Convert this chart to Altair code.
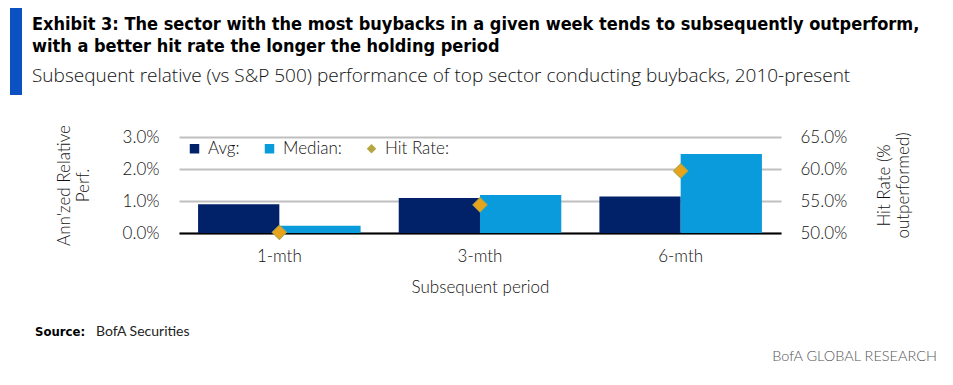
import altair as alt
import pandas as pd

# ---- data ----
periods = ["1-mth", "3-mth", "6-mth"]
avg_perf = [0.0090, 0.0109, 0.0114]
median_perf = [0.0023, 0.0119, 0.0247]
hit_rate = [0.501, 0.544, 0.597]
series = ["Avg:", "Median:", "Hit Rate:"]
left_ticks = [0.0, 0.01, 0.02, 0.03]
right_ticks = [0.50, 0.55, 0.60, 0.65]

title_lines = [
    "Exhibit 3: The sector with the most buybacks in a given week tends to subsequently outperform,",
    "with a better hit rate  the longer the holding period",
]
subtitle = "Subsequent relative (vs S&P 500) performance of top sector conducting buybacks, 2010-present"
source_label = "Source:"
source_text = "BofA Securities"
brand = "BofA GLOBAL RESEARCH"

NAVY = "#012169"
LIGHT = "#0A9BDC"
GOLD = "#E9A41B"
OLIVE = "#B5A642"
FONT = "Lato"
TXT = "#111111"

bars_df = pd.DataFrame({
    "period": periods * 2,
    "series": [series[0]] * 3 + [series[1]] * 3,
    "value": avg_perf + median_perf,
})
hit_df = pd.DataFrame({"period": periods, "series": [series[2]] * 3, "hit": hit_rate})

color_scale = alt.Scale(domain=series, range=[NAVY, LIGHT, OLIVE])
shape_scale = alt.Scale(domain=series, range=["square", "square", "diamond"])
x_scale = alt.Scale(domain=periods, paddingInner=0.19, paddingOuter=0.095)

legend = alt.Legend(
    title=None, orient="none", legendX=7, legendY=3, direction="horizontal",
    columns=3, columnPadding=21, symbolSize=90, symbolStrokeWidth=0,
    labelFont=FONT, labelFontSize=17, labelColor=TXT, labelFontWeight=300,
    labelOffset=5, padding=0,
)

bars = alt.Chart(bars_df).mark_bar().encode(
    x=alt.X("period:N", scale=x_scale, sort=periods, title="Subsequent  period",
            axis=alt.Axis(labelAngle=0, ticks=False, domainColor="#000", domainWidth=2,
                          labelPadding=15, titlePadding=15, labelFontSize=17)),
    xOffset=alt.XOffset("series:N", sort=series[:2], scale=alt.Scale(paddingInner=0, paddingOuter=0)),
    y=alt.Y("value:Q", scale=alt.Scale(domain=[0, 0.03], nice=False),
            title=["Ann'zed Relative", "Perf."],
            axis=alt.Axis(orient="left", values=left_ticks, format=".1%", ticks=False, domain=False,
                          gridColor="#BFBFBF", gridWidth=2, labelPadding=20, titlePadding=30,
                          titleAngle=270, labelFontSize=17, titleFontSize=17)),
    color=alt.Color("series:N", scale=color_scale, legend=legend),
)

points = alt.Chart(hit_df).mark_point(filled=True, size=200, strokeWidth=1.2, opacity=1).encode(
    x=alt.X("period:N", scale=x_scale, sort=periods),
    y=alt.Y("hit:Q", scale=alt.Scale(domain=[0.50, 0.65], nice=False),
            title=["Hit Rate  (%", "outperformed)"],
            axis=alt.Axis(orient="right", values=right_ticks, format=".1%", ticks=False, domain=False,
                          grid=False, labelPadding=19, titlePadding=28, titleAngle=270,
                          labelFontSize=17, titleFontSize=17)),
    color=alt.Color("series:N", scale=color_scale, legend=legend),
    shape=alt.Shape("series:N", scale=shape_scale, legend=legend),
    fill=alt.value(GOLD),
    stroke=alt.value(OLIVE),
)

def text_layer(txt, x, y, size, weight="normal", color="#000", align="left", font=FONT, line_height=None):
    kw = dict(align=align, baseline="alphabetic", fontSize=size, fontWeight=weight,
              color=color, font=font)
    if line_height:
        kw.update(lineBreak="\n", lineHeight=line_height)
    return alt.Chart(pd.DataFrame({"t": [txt]})).mark_text(**kw).encode(
        text="t:N", x=alt.value(x), y=alt.value(y))

OX, OY = 179, 137  # plot origin in page coordinates (incl. 8px margin)

deco = [
    alt.Chart(pd.DataFrame({"t": [1]})).mark_rect(color="#0B51C1").encode(
        x=alt.value(10 - OX), x2=alt.value(22 - OX), y=alt.value(7 - OY), y2=alt.value(95 - OY)),
    text_layer("\n".join(title_lines), 32 - OX, 30 - OY, 18, weight="bold",
               font="DejaVu Sans Condensed", line_height=22),
    text_layer(subtitle, 32 - OX, 82 - OY, 19, weight=300, color=TXT, font="Open Sans"),
    text_layer(source_label, 35 - OX, 336 - OY, 13, weight="bold", font="DejaVu Sans Condensed"),
    text_layer(source_text, 96 - OX, 336 - OY, 14, color="#222"),
    text_layer(brand, 937 - OX, 361 - OY, 14.5, weight=300, color="#555", align="right"),
]

chart = alt.layer(bars, points, *deco).resolve_scale(
    y="independent", color="shared", shape="shared"
).properties(
    width=602, height=96,
    background="white",
    autosize=alt.AutoSizeParams(type="none"),
    padding={"left": OX - 8, "top": OY - 8, "right": 937 - (OX - 8) - 602, "bottom": 369 - (OY - 8) - 96},
).configure_view(stroke=None).configure_axis(
    labelFont=FONT, titleFont=FONT, labelFontSize=17, titleFontSize=17,
    labelColor=TXT, titleColor=TXT, labelFontWeight=300, titleFontWeight=300,
)

chart.save("out.html", embed_options={"renderer": "svg", "actions": False})
